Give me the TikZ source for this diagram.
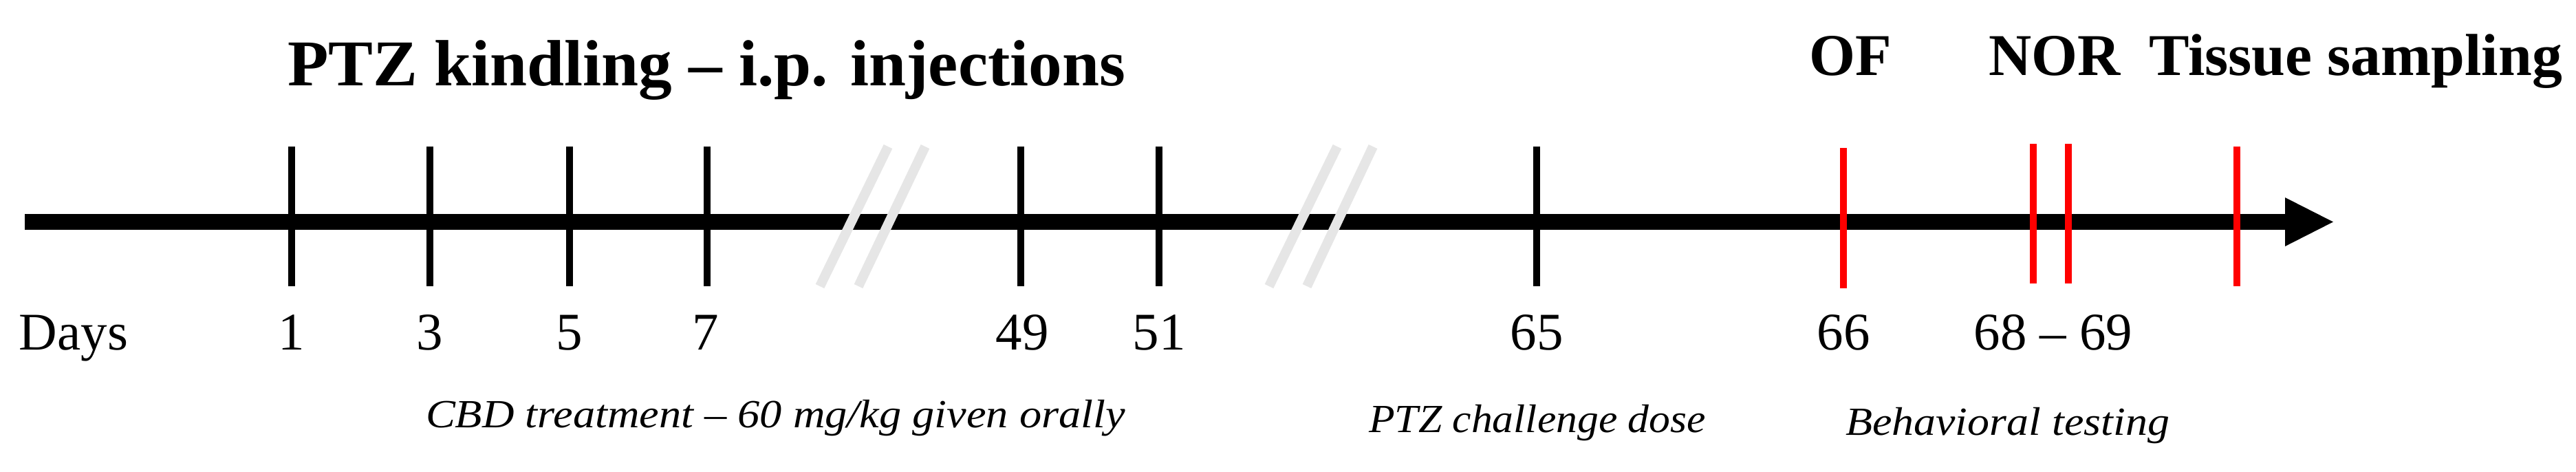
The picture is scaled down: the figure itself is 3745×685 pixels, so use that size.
\documentclass[tikz,border=0pt]{standalone}
\usepackage{fontspec}
\setmainfont{Liberation Serif}
\usepackage{graphicx}
\definecolor{brkgrey}{RGB}{230,230,230}
\definecolor{evred}{RGB}{255,0,0}
\newcommand{\fitw}[2]{\resizebox{#1}{\height}{#2}}
\begin{document}
\begin{tikzpicture}[x=0.1mm,y=-0.1mm,
  lbl/.style={inner sep=0pt, outer sep=0pt},
  ttl/.style={lbl, font=\fontsize{27pt}{30pt}\selectfont\bfseries},
  evt/.style={lbl, font=\fontsize{24.5pt}{28pt}\selectfont\bfseries},
  day/.style={lbl, font=\fontsize{21.9pt}{25pt}\selectfont, anchor=base},
  note/.style={lbl, font=\fontsize{16.5pt}{19pt}\selectfont\itshape, anchor=base west},
  daytick/.style={line width=1mm, black},
  redtick/.style={line width=1mm, evred},
  brk/.style={line width=1.4mm, brkgrey},
]
\useasboundingbox (0,0) rectangle (3745,685);
% axis
\coordinate (axstart) at (36,322.5);
\coordinate (axend) at (3323,322.5);
\draw[line width=2.3mm] (axstart) -- (axend);
\fill (3322,287) -- (3392,322.5) -- (3322,358) -- cycle;
% breaks
\draw[brk] (1192,416) -- (1291,213);
\draw[brk] (1248,416) -- (1345,213);
\draw[brk] (1845,416) -- (1944,213);
\draw[brk] (1900,416) -- (1996,213);
% black ticks
\foreach \x in {424,625,828,1028,1484,1685,2234}
  \draw[daytick] (\x,213) -- (\x,416);
% red ticks
\draw[redtick] (2680,215) -- (2680,419);
\draw[redtick] (2956,209) -- (2956,412);
\draw[redtick] (3007,209) -- (3007,412);
\draw[redtick] (3252,213) -- (3252,416);
% top labels
\node[ttl, anchor=base west] (title) at (418,124) {\fitw{121.8mm}{PTZ kindling – i.p. injections}};
\node[evt, anchor=base] (of) at (2690,109) {OF};
\node[evt, anchor=base] (nor) at (2987,109) {NOR};
\node[evt, anchor=base west] (tissue) at (3124,109) {\fitw{60.1mm}{Tissue sampling}};
% day labels
\node[day, anchor=base west] (days) at (28,508) {Days};
\node[day] (d1) at (424,508) {1};
\node[day] (d3) at (625,508) {3};
\node[day] (d5) at (828,508) {5};
\node[day] (d7) at (1026,508) {7};
\node[day] (d49) at (1486,508) {49};
\node[day] (d51) at (1685,508) {51};
\node[day] (d65) at (2234,508) {65};
\node[day] (d66) at (2680,508) {66};
\node[day] (d6869) at (2985,508) {68 – 69};
% notes
\node[note] (cbd) at (619,621) {\fitw{101.7mm}{CBD treatment – 60 mg/kg given orally}};
\node[note] (ptzc) at (1990,628) {\fitw{49.0mm}{PTZ challenge dose}};
\node[note] (beh) at (2683,632) {\fitw{47.1mm}{Behavioral testing}};
\end{tikzpicture}
\end{document}
